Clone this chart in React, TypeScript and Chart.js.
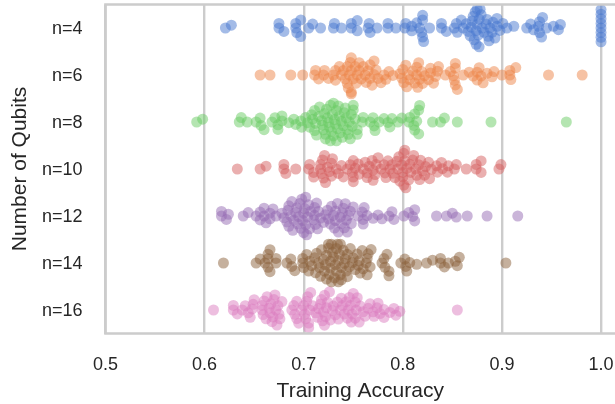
import React, { useEffect, useRef } from "react";
import { Chart, registerables } from "chart.js";

Chart.register(...registerables);

const categories = ["n=4", "n=6", "n=8", "n=10", "n=12", "n=14", "n=16"];
const xTicks = [0.5, 0.6, 0.7, 0.8, 0.9, 1.0];
const colors = ["#4878d0", "#ee854a", "#6acc64", "#d65f5f", "#956cb4", "#8c613c", "#dc7ec0"];

const accN4 = [.621,.627,.675,.675,.680,.692,.692,.693,.697,.697,.705,.709,.717,.730,.731,.738,.748,.748,.754,.754,.766,.765,.767,.774,.785,.785,.793,.803,.802,
  .809,.809,.814,.817,.819,.820,.820,.820,.821,.827,.839,.839,.844,.852,.854,.855,.859,.861,.864,.866,.870,.871,.873,.874,.875,.875,.876,.877,.877,.878,.879,.884,.885,.886,.888,.891,.893,.895,.895,.898,.901,.905,.912,.925,.929,.932,.937,.938,.938,.940,.941,.945,.952,.957,.959,
  .868,.869,.872,.874,.880,.882,.887,.890,
  1,1,1,1,1,1,1,1];
const accN6 = [.656,.666,.687,.699,.711,.712,.715,.720,.721,.725,.730,.732,.732,.736,.738,.744,.744,.745,.748,.748,.748,.748,.752,.754,.756,.756,.760,.762,.763,.767,.767,.771,.771,.773,.775,.778,.781,.783,.786,.797,
  .799,.801,.804,.807,.810,.814,.814,.816,.817,.819,.822,.826,.828,.828,.831,.833,.835,.836,.843,.848,.851,.852,.853,.853,.853,.855,.861,.867,.871,.875,.875,.877,.879,.881,.885,.890,.892,.900,.908,.908,.909,.914,.947,.981,
  .740,.742,.746,.747,.750,.753,.758,.765,.769,.790,.800,.803,.806,.812,.815,.820];
const accN8 = [.592,.598,.635,.637,.643,.652,.656,.657,.660,.668,.671,.674,.674,.678,.678,.685,.690,.692,.697,.698,.704,.708,.711,.711,.713,.720,.722,.722,.726,.727,.727,.730,.730,.733,.733,.737,.741,.742,.746,.747,.750,.750,.754,.754,.759,.760,.767,.770,.771,.772,.776,.781,.785,.787,.789,.795,.799,.806,
  .807,.811,.812,.812,.814,.816,.816,.817,.830,.838,.842,.855,.889,.965,
  .702,.706,.709,.712,.715,.716,.718,.719,.721,.723,.724,.725,.728,.729,.731,.732,.734,.735,.736,.738,.739,.740,.743,.744,.745,.748,.749,.752];
const accN10 = [.633,.656,.662,.680,.680,.682,.692,.705,.706,.710,.710,.717,.717,.718,.719,.720,.721,.722,.729,.728,.728,.735,.740,.744,.749,.750,
  .750,.750,.752,.755,.762,.764,.764,.769,.770,.770,.773,.775,.781,.782,.785,.787,.789,.792,.794,.796,.797,.799,.8,.8,.801,.801,.802,.802,.804,.806,.807,.810,.811,.814,.816,.817,.818,.820,.822,.823,.826,.827,.829,.834,.835,.839,.840,.845,.846,.852,.854,.864,.874,.874,.879,.879,.897,.899,
  .724,.726,.733,.738,.747,.756,.760,.766,.772,.778,.783,.790,.795,.803,.808,.813];
const accN12 = [.617,.617,.622,.624,.639,.644,.652,.656,.656,.660,.660,.662,.666,.666,.669,.672,.678,.683,.685,.685,.687,.689,.692,.695,.696,.700,.700,.701,.702,.703,.705,.707,.711,.711,.712,.715,.717,.722,.725,.728,.730,.732,.732,.735,.737,.740,.742,.744,.745,.747,.755,.759,.760,.760,.761,.764,.770,.775,.779,.786,.789,.791,.801,.806,
  .810,.812,.812,.834,.844,.850,.854,.865,.885,.916,
  .680,.684,.688,.690,.693,.694,.697,.698,.699,.702,.704,.706,.748,.750,.710,.713,.714,.720,.724,.727,.731,.734,.738,.739,.741,.743];
const accN14 = [.619,.652,.656,.661,.664,.664,.664,.666,.666,.672,.672,.683,.687,.688,.691,.699,.699,.700,.703,.705,.711,.712,.716,.717,.720,.722,.723,.723,.725,.725,.727,.727,.728,.728,.730,.731,.732,.733,.733,.735,.735,.736,.737,.737,.738,.740,.741,.742,.744,.744,.746,.750,.754,.755,.757,.760,.763,.764,.764,.765,.767,.768,.779,.781,.782,.784,.786,.786,.798,.802,.804,
  .803,.807,.814,.824,.830,.838,.838,.842,.846,.853,.855,.857,.904,
  .706,.708,.713,.715,.718,.721,.726,.729,.734,.738,.743,.747,.749,.752,.756,.759];
const accN16 = [.609,.629,.629,.633,.638,.641,.644,.646,.648,.649,.650,.658,.658,.659,.665,.666,.668,.670,.671,.672,.674,.675,.676,.678,.688,.690,.691,.693,.693,.700,.702,.703,.704,.705,.705,.706,.707,.712,.715,.717,.718,.720,.721,.721,.722,.723,.724,.727,.730,.732,.735,.737,.738,.741,.744,.745,.746,.747,.750,.752,.752,.754,.757,.760,.762,.765,.767,.770,.771,.774,.775,.777,.781,.781,.787,.791,.793,.797,.855,
  .660,.662,.663,.667,.669,.673,.695,.698,.701,.709,.714,.719,.726,.729,.734,.739,.743,.748,.749,.753,.756];

const seriesValues = [accN4, accN6, accN8, accN10, accN12, accN14, accN16];

// Beeswarm spread (seaborn's algorithm) across the category band.
const PX_PER_X = 991;
const PX_PER_CAT = 47;
const COLLIDE_X = 7.5;
const COLLIDE_Y = 4.4;
const HALF_BAND = 0.4;

function swarm(values: number[], cat: number) {
  const sorted = [...values].sort((a, b) => a - b);
  const placed: { u: number; v: number }[] = [];
  return sorted.map((val) => {
    const u = (val * PX_PER_X) / COLLIDE_X;
    const near = placed.filter((p) => Math.abs(p.u - u) < 1);
    const cands = [0];
    near.forEach((p) => {
      const dv = Math.sqrt(Math.max(1 - (p.u - u) ** 2, 0)) * 1.05;
      cands.push(p.v - dv, p.v + dv);
    });
    const ordered = cands
      .map((v, i) => ({ v, i }))
      .sort((a, b) => Math.abs(a.v) - Math.abs(b.v) || a.i - b.i);
    const hit = ordered.find(({ v }) =>
      near.every((p) => (p.u - u) ** 2 + (p.v - v) ** 2 >= 0.999)
    );
    const v = hit ? hit.v : 0;
    placed.push({ u, v });
    let off = (v * COLLIDE_Y) / PX_PER_CAT;
    off = Math.max(-HALF_BAND, Math.min(HALF_BAND, off));
    return { x: val, y: cat + off };
  });
}

const INK = "#262626";
const SPINE = "#cccccc";
const FONT = "'Liberation Sans', Arial, sans-serif";

const topFrame = {
  id: "topFrame",
  afterDatasetsDraw(chart: any) {
    const { ctx, chartArea } = chart;
    ctx.save();
    ctx.strokeStyle = SPINE;
    ctx.lineWidth = 2.6;
    ctx.beginPath();
    ctx.rect(chartArea.left, chartArea.top, chartArea.right - chartArea.left + 10, chartArea.bottom - chartArea.top);
    ctx.stroke();
    ctx.restore();
  },
};

const noPad = (s: any) => {
  s.paddingLeft = s.paddingRight = s.paddingTop = s.paddingBottom = 0;
};

// Nudges an axis's tick labels down a little, to sit where the reference's do.
const lowerLabels = (s: any, dy: number) => {
  if (s.__lowered) return;
  s.__lowered = true;
  const orig = s._computeLabelItems.bind(s);
  s._computeLabelItems = (area: any) => {
    const items = orig(area);
    items.forEach((it: any) => {
      it.options.translation = [it.options.translation[0], it.options.translation[1] + dy];
    });
    return items;
  };
};

export default function App() {
  const ref = useRef<HTMLCanvasElement>(null);
  useEffect(() => {
    const chart = new Chart(ref.current!, {
      type: "scatter",
      data: {
        datasets: seriesValues.map((vals, i) => ({
          label: categories[i],
          data: swarm(vals, i),
          backgroundColor: colors[i] + "80",
          borderWidth: 0,
          pointRadius: 5.5,
          pointHoverRadius: 5.5,
        })),
      },
      options: {
        animation: false,
        responsive: false,
        layout: { padding: { top: 4.5 }, autoPadding: false },
        plugins: { legend: { display: false }, tooltip: { enabled: false } },
        scales: {
          x: {
            type: "linear",
            min: 0.5,
            max: 1.0141,
            afterBuildTicks: (s: any) => {
              s.ticks = xTicks.map((value) => ({ value }));
            },
            afterFit: (s: any) => {
              s.height = 70.5;
              noPad(s);
            },
            grid: { display: true, color: SPINE, lineWidth: 2.4, drawTicks: false },
            border: { display: false },
            ticks: {
              color: INK,
              font: { family: FONT, size: 18 },
              padding: 21,
              maxRotation: 0,
              autoSkip: false,
              callback: (v: any) => Number(v).toFixed(1),
            },
            title: {
              display: true,
              text: "Training Accuracy",
              color: INK,
              font: { family: FONT, size: 21 },
              padding: { top: 4, bottom: 0 },
            },
          },
          y: {
            type: "linear",
            reverse: true,
            min: -0.5,
            max: 6.5,
            afterBuildTicks: (s: any) => {
              s.ticks = categories.map((_, value) => ({ value }));
            },
            afterFit: (s: any) => {
              s.width = 105.5;
              noPad(s);
              lowerLabels(s, 1.5);
            },
            grid: { display: false, drawTicks: false },
            border: { display: false },
            ticks: {
              color: INK,
              font: { family: FONT, size: 18 },
              padding: 23,
              autoSkip: false,
              callback: (v: any) => categories[Number(v)] ?? "",
            },
            title: {
              display: true,
              text: "Number of Qubits",
              color: INK,
              font: { family: FONT, size: 21 },
              padding: { top: 8, bottom: 0 },
            },
          },
        },
      },
      plugins: [topFrame],
    } as any);
    return () => chart.destroy();
  }, []);
  return (
    <div style={{ position: "fixed", left: 0, top: 0, width: 615, height: 404, background: "#fff" }}>
      <canvas ref={ref} width={615} height={404} style={{ display: "block" }} />
    </div>
  );
}
